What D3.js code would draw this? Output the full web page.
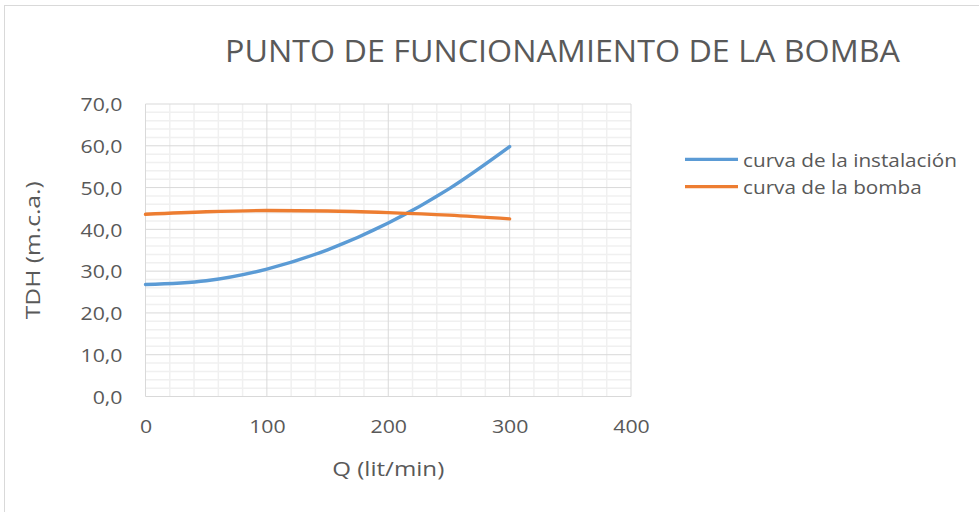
<!DOCTYPE html>
<html>
<head>
<meta charset="utf-8">
<script src="https://cdn.jsdelivr.net/npm/d3@7"></script>
<style>
  html, body { margin: 0; padding: 0; background: #fff; }
  svg { display: block; font-family: "Open Sans", sans-serif; }
</style>
</head>
<body>
<svg id="chart" width="979" height="512"></svg>
<script>
// Caudal (lit/min) and heads (m.c.a.) for both curves
const caudal = [0, 50, 100, 150, 200, 250, 300];
const instalacion = [26.8, 27.7, 30.5, 35.1, 41.5, 49.7, 59.8];
const bomba = [43.6, 44.2, 44.5, 44.4, 44.0, 43.4, 42.5];

const seriesNames = ["curva de la instalación", "curva de la bomba"];
const seriesColors = ["#5b9bd5", "#ed7d31"];

const xTicks = [0, 100, 200, 300, 400];
const yTicks = [0, 10, 20, 30, 40, 50, 60, 70];

const titleText = "PUNTO DE FUNCIONAMIENTO DE LA BOMBA";
const xTitle = "Q (lit/min)";
const yTitle = "TDH (m.c.a.)";

const svg = d3.select("#chart");
const textColor = "#595959";
const stretch = 1.15; // widen glyphs horizontally

function widen(sel, factor) {
  sel.each(function () {
    const w = this.getComputedTextLength();
    d3.select(this).attr("textLength", w * factor).attr("lengthAdjust", "spacingAndGlyphs");
  });
}

// chart frame
svg.append("rect")
  .attr("x", 4.5).attr("y", 5.5)
  .attr("width", 1000).attr("height", 1000)
  .attr("fill", "none").attr("stroke", "#d9d9d9").attr("stroke-width", 1);

const plot = { left: 145.5, right: 631, top: 104, bottom: 396.5 };

const x = d3.scaleLinear().domain([0, 400]).range([plot.left, plot.right]);
const y = d3.scaleLinear().domain([0, 70]).range([plot.bottom, plot.top]);

const g = svg.append("g");

// minor grid
g.append("g")
  .selectAll("line")
  .data(d3.range(0, 401, 20).filter(v => v % 100 !== 0))
  .join("line")
  .attr("x1", d => x(d)).attr("x2", d => x(d))
  .attr("y1", plot.top).attr("y2", plot.bottom)
  .attr("stroke", "#f0f0f0").attr("stroke-width", 1.5);
g.append("g")
  .selectAll("line")
  .data(d3.range(0, 71, 2).filter(v => v % 10 !== 0))
  .join("line")
  .attr("x1", plot.left).attr("x2", plot.right)
  .attr("y1", d => y(d)).attr("y2", d => y(d))
  .attr("stroke", "#f0f0f0").attr("stroke-width", 1.5);

// major grid
g.append("g")
  .selectAll("line")
  .data(xTicks)
  .join("line")
  .attr("x1", d => x(d)).attr("x2", d => x(d))
  .attr("y1", plot.top).attr("y2", plot.bottom)
  .attr("stroke", "#d9d9d9").attr("stroke-width", 1);
g.append("g")
  .selectAll("line")
  .data(yTicks)
  .join("line")
  .attr("x1", plot.left).attr("x2", plot.right)
  .attr("y1", d => y(d)).attr("y2", d => y(d))
  .attr("stroke", "#d9d9d9").attr("stroke-width", 1);

// axes (labels only)
const fmt = d => d.toFixed(1).replace(".", ",");
const yAxis = svg.append("g")
  .attr("transform", `translate(${plot.left},0)`)
  .call(d3.axisLeft(y).tickValues(yTicks).tickFormat(fmt).tickSize(0).tickPadding(23));
yAxis.select(".domain").remove();
yAxis.selectAll("text")
  .attr("fill", textColor).attr("font-size", 18.5).attr("font-family", "Open Sans")
  .attr("dy", "0.36em");

const xAxis = svg.append("g")
  .attr("transform", `translate(0,${plot.bottom})`)
  .call(d3.axisBottom(x).tickValues(xTicks).tickFormat(d3.format("d")).tickSize(0).tickPadding(23));
xAxis.select(".domain").remove();
xAxis.selectAll("text")
  .attr("fill", textColor).attr("font-size", 18.5).attr("font-family", "Open Sans")
  .attr("dy", "0.71em");

widen(yAxis.selectAll("text"), stretch);
widen(xAxis.selectAll("text"), stretch);

// curves
const line = d3.line()
  .x((d, i) => x(caudal[i]))
  .y(d => y(d))
  .curve(d3.curveMonotoneX);

[instalacion, bomba].forEach((s, k) => {
  svg.append("path")
    .datum(s)
    .attr("d", line)
    .attr("fill", "none")
    .attr("stroke", seriesColors[k])
    .attr("stroke-width", 3.4)
    .attr("stroke-linecap", "round");
});

// title
svg.append("text")
  .attr("x", 562.5).attr("y", 61.7)
  .attr("text-anchor", "middle")
  .attr("font-size", 30.4)
  .attr("fill", textColor)
  .attr("textLength", 675).attr("lengthAdjust", "spacingAndGlyphs")
  .text(titleText);

// axis titles
svg.append("text")
  .attr("x", (plot.left + plot.right) / 2).attr("y", 475.5)
  .attr("text-anchor", "middle")
  .attr("font-size", 19.5)
  .attr("fill", textColor)
  .attr("textLength", 112).attr("lengthAdjust", "spacingAndGlyphs")
  .text(xTitle);

svg.append("text")
  .attr("transform", `translate(39.5,${(plot.top + plot.bottom) / 2}) rotate(-90)`)
  .attr("text-anchor", "middle")
  .attr("font-size", 19.5)
  .attr("fill", textColor)
  .attr("textLength", 138).attr("lengthAdjust", "spacingAndGlyphs")
  .text(yTitle);

// legend
const legend = svg.append("g");
const legendY = [159.3, 186.7];
seriesNames.forEach((name, k) => {
  legend.append("line")
    .attr("x1", 685).attr("x2", 738)
    .attr("y1", legendY[k]).attr("y2", legendY[k])
    .attr("stroke", seriesColors[k]).attr("stroke-width", 3.2);
  legend.append("text")
    .attr("x", 743).attr("y", legendY[k] + 7.2)
    .attr("font-size", 18.5)
    .attr("fill", textColor)
    .text(name);
});
widen(legend.selectAll("text"), 1.12);
</script>
</body>
</html>
